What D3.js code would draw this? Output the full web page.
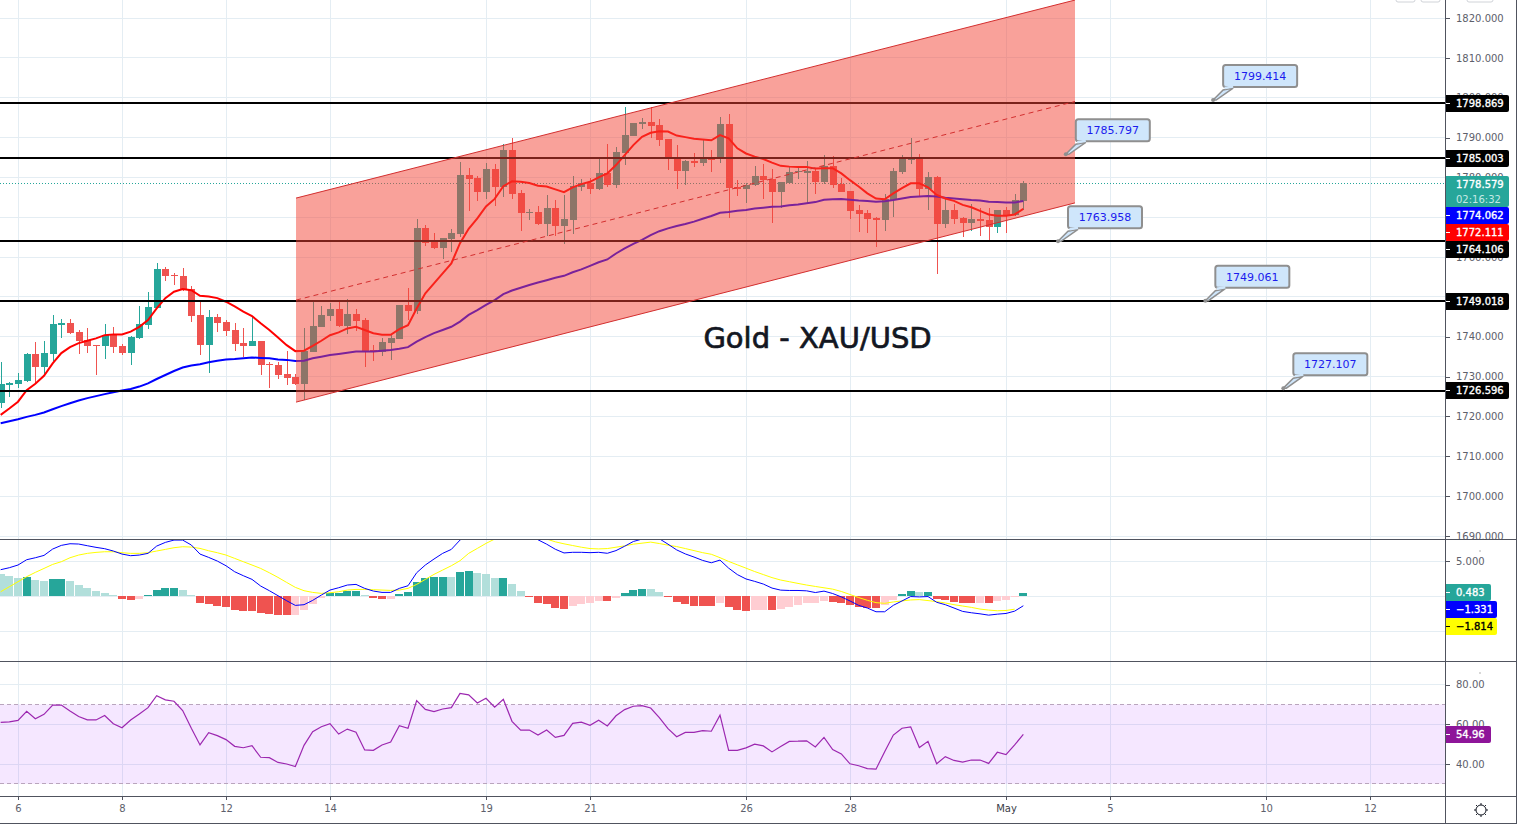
<!DOCTYPE html>
<html>
<head>
<meta charset="utf-8">
<title>Gold - XAU/USD</title>
<script src="https://cdn.jsdelivr.net/npm/d3@7"></script>
<style>
  html, body { margin: 0; padding: 0; background: #fff; }
  svg { display: block; }
  text { font-family: "DejaVu Sans", sans-serif; }
</style>
</head>
<body>
<div id="chart"></div>
<script>
// 4h candles
var opens = [1723.3,1728.0,1728.2,1729.0,1735.7,1732.5,1735.8,1743.0,1743.5,1741.2,1739.2,1737.9,1737.8,1740.4,1737.7,1736.0,1739.7,1743.0,1747.3,1757.0,1755.6,1755.2,1752.0,1745.5,1738.0,1745.0,1743.7,1741.7,1738.4,1737.8,1738.9,1733.2,1732.9,1730.7,1729.9,
  1728.2,1736.3,1742.4,1745.2,1747.0,1742.7,1745.7,1744.2,1736.7,1736.2,1738.4,1739.4,1748.0,1746.5,1767.3,1764.3,1762.3,1764.5,1765.8,1780.6,1779.9,1776.3,1782.1,1777.6,1786.9,1776.1,1771.1,1771.3,1768.3,1772.3,1767.8,1769.3,1777.6,1778.6,1777.1,1781.1,1778.1,1786.1,
  1790.4,1793.5,1793.9,1793.1,1789.6,1784.6,1781.6,1784.1,1783.6,1784.6,1784.6,1793.4,1777.5,1777.1,1778.1,1780.4,1779.6,1776.3,1778.6,1781.4,1781.1,1781.6,1778.8,1782.9,1778.3,1776.6,1771.8,1771.1,1769.8,1769.3,1774.3,1781.4,1784.4,1784.6,1777.1,1780.1,1768.3,1771.8,1769.8,1768.6,1769.6,1769.3,1767.5,1771.8,1770.6,1774.1];
var closes = [1728.2,1728.4,1729.2,1735.7,1732.5,1735.9,1743.2,1743.4,1741.0,1739.0,1737.8,1737.7,1740.4,1737.5,1736.0,1739.9,1743.2,1747.5,1757.0,1755.3,1755.2,1751.8,1745.3,1738.0,1745.0,1743.5,1741.5,1738.3,1737.8,1738.9,1733.0,1732.8,1730.5,1729.7,1728.2,
  1736.5,1742.7,1745.4,1747.0,1742.6,1745.7,1744.0,1736.5,1736.3,1738.7,1739.7,1748.0,1746.5,1767.3,1763.5,1762.3,1764.8,1766.0,1780.6,1779.6,1776.3,1782.1,1777.6,1786.9,1775.8,1771.1,1771.3,1768.3,1772.3,1767.8,1769.6,1777.8,1778.6,1777.1,1781.1,1778.1,1786.4,1790.6,
  1793.6,1793.9,1792.9,1789.4,1785.1,1781.6,1784.1,1783.6,1784.6,1784.4,1793.4,1777.3,1777.1,1778.1,1780.4,1779.3,1776.3,1778.8,1781.4,1781.6,1781.6,1778.8,1782.9,1778.1,1776.3,1771.6,1770.8,1769.6,1769.3,1774.6,1781.6,1784.6,1784.6,1777.1,1780.1,1768.3,1771.8,1769.6,1768.6,1769.6,1769.1,1767.5,1771.8,1770.6,1774.3,1778.579];
var highs = [1733.7,1728.6,1730.8,1735.9,1738.7,1738.9,1745.5,1744.4,1744.4,1741.7,1742.2,1738.0,1743.2,1742.4,1738.2,1740.2,1747.7,1751.2,1758.5,1757.4,1756.1,1757.3,1752.7,1748.8,1746.7,1745.7,1744.2,1743.4,1742.2,1745.0,1738.9,1733.7,1733.7,1736.4,1730.7,
  1742.2,1748.8,1747.7,1748.6,1748.8,1749.5,1746.9,1744.6,1737.9,1739.7,1740.7,1748.0,1752.2,1769.6,1768.1,1766.0,1764.8,1767.0,1783.9,1782.4,1780.4,1783.6,1783.4,1788.4,1789.9,1776.8,1772.1,1772.8,1775.6,1774.3,1775.6,1780.3,1779.6,1779.8,1784.6,1788.4,1787.6,1797.7,
  1793.6,1794.8,1797.7,1794.6,1789.6,1788.1,1784.4,1786.1,1789.6,1786.9,1795.2,1795.9,1779.4,1778.6,1782.9,1783.4,1782.1,1778.8,1782.6,1782.4,1784.1,1782.1,1785.6,1785.3,1779.8,1776.6,1773.1,1771.8,1770.1,1775.8,1782.4,1785.6,1789.9,1785.9,1781.4,1780.3,1774.6,1773.3,1770.1,1773.3,1772.3,1772.3,1771.8,1772.6,1775.8,1779.1];
var lows = [1722.05,1725.0,1727.2,1728.6,1728.3,1730.4,1734.0,1739.8,1740.6,1735.7,1736.0,1730.4,1734.4,1735.9,1735.3,1732.9,1739.4,1742.0,1747.1,1754.1,1753.0,1751.5,1743.8,1735.4,1731.0,1741.2,1740.2,1736.4,1735.0,1737.6,1730.4,1727.2,1729.5,1727.9,1727.9,
  1724.1,1736.3,1742.4,1743.9,1742.4,1740.7,1741.4,1732.5,1734.0,1735.2,1734.2,1739.4,1744.2,1745.7,1762.8,1762.0,1759.5,1761.3,1765.1,1771.6,1774.1,1774.6,1772.8,1775.1,1774.6,1766.5,1769.3,1768.0,1765.3,1765.3,1763.3,1765.8,1776.6,1775.8,1776.8,1777.6,1777.3,1783.1,
  1790.4,1792.1,1789.9,1787.9,1781.9,1777.1,1778.2,1782.6,1782.9,1781.4,1783.6,1769.8,1775.3,1773.6,1777.8,1774.6,1768.6,1772.3,1778.6,1779.6,1773.6,1775.8,1778.3,1777.3,1776.3,1769.6,1766.3,1766.0,1762.5,1766.5,1770.1,1780.9,1783.4,1775.1,1771.8,1755.7,1767.3,1768.3,1765.0,1766.5,1765.3,1764.3,1766.0,1766.0,1770.3,1771.8];

// moving averages
var emaFast = [1720.4,1722.0,1723.7,1726.6,1728.2,1730.2,1733.3,1735.9,1737.4,1738.4,1739.0,1739.6,1740.4,1740.6,1740.6,1741.3,1742.5,1744.2,1747.1,1749.7,1751.3,1752.0,1751.7,1750.3,1750.1,1749.7,1748.8,1747.6,1746.3,1745.2,1743.4,1741.7,1739.8,1737.9,1736.4,
  1736.5,1737.7,1739.0,1740.4,1741.1,1742.1,1742.5,1741.7,1740.9,1740.5,1740.5,1741.9,1742.9,1747.1,1750.9,1753.4,1755.9,1758.4,1763.5,1767.1,1769.7,1772.7,1774.6,1777.8,1779.0,1778.9,1778.6,1777.9,1777.7,1777.0,1776.3,1777.5,1778.3,1778.9,1780.0,1781.0,1783.1,1785.6,
  1788.1,1790.2,1791.2,1791.6,1791.5,1790.5,1790.1,1789.7,1789.5,1789.3,1790.6,1789.8,1787.3,1786.0,1785.2,1784.6,1783.7,1782.9,1782.7,1782.6,1782.6,1782.2,1782.3,1782.3,1781.0,1779.3,1777.7,1776.0,1774.7,1774.5,1776.0,1777.3,1778.5,1778.5,1777.5,1775.6,1774.7,1774.1,1773.1,1772.5,1771.6,1770.7,1770.4,1770.4,1770.7,1772.111];
var emaSlow = [1718.3,1718.8,1719.3,1719.9,1720.4,1721.0,1721.8,1722.6,1723.3,1724.0,1724.6,1725.1,1725.6,1726.1,1726.5,1726.9,1727.5,1728.3,1729.4,1730.4,1731.4,1732.3,1732.8,1733.1,1733.6,1734.0,1734.3,1734.4,1734.6,1734.8,1734.7,1734.6,1734.3,1734.2,1733.9,
  1734.0,1734.6,1735.0,1735.4,1735.7,1736.0,1736.3,1736.3,1736.3,1736.5,1736.7,1737.0,1737.4,1738.8,1739.9,1740.9,1741.7,1742.5,1743.8,1745.5,1746.7,1748.0,1749.2,1750.7,1751.6,1752.3,1753.0,1753.6,1754.2,1754.8,1755.3,1756.2,1756.9,1757.8,1758.7,1759.4,1760.9,1762.2,
  1763.3,1764.3,1765.5,1766.5,1767.2,1767.8,1768.3,1768.9,1769.6,1770.3,1771.1,1771.3,1771.6,1771.8,1772.2,1772.4,1772.6,1772.7,1773.0,1773.2,1773.5,1773.8,1774.4,1774.5,1774.6,1774.4,1774.2,1774.1,1773.9,1774.0,1774.3,1774.7,1775.1,1775.2,1775.3,1775.2,1774.9,1774.7,1774.5,1774.3,1774.2,1773.9,1773.8,1773.7,1773.7,1774.062];

// MACD pane
var macdHist = [3.15,2.87,2.63,2.68,2.30,2.16,2.44,2.47,2.16,1.60,1.18,.75,.47,.19,-.38,-.52,-.38,.19,.89,1.18,1.20,.89,.19,-.94,-1.08,-1.36,-1.50,-1.93,-2.07,-2.09,-2.35,-2.49,-2.63,-2.65,-2.63,
  -1.93,-1.08,-.24,.47,.49,.75,.78,.19,-.28,-.38,-.33,.33,.61,2.02,2.59,2.73,2.75,2.73,3.43,3.57,3.29,3.15,2.59,2.61,1.74,.75,-.14,-.94,-1.08,-1.65,-1.79,-1.36,-1.08,-.94,-.66,-.68,-.24,.47,
  .89,1.03,1.01,.61,-.14,-.80,-1.08,-1.36,-1.39,-1.41,-.94,-1.50,-1.93,-2.07,-1.93,-1.92,-1.95,-1.79,-1.50,-1.22,-.94,-.92,-.66,-.80,-.94,-1.22,-1.50,-1.65,-1.67,-1.22,-.52,.33,.75,.61,.63,-.38,-.52,-.80,-.94,-.96,-.94,-.99,-.66,-.52,-.09,.483];
var macdLine = [3.77,4.05,4.43,5.18,5.46,5.79,6.69,7.21,7.44,7.40,7.16,6.93,6.74,6.41,5.98,5.75,5.84,6.08,7.11,7.63,7.96,7.96,7.26,5.98,5.51,4.99,4.33,3.48,2.92,2.40,1.46,.80,.09,-.62,-1.28,
  -1.18,-.57,.18,.89,1.22,1.60,1.69,1.13,.75,.56,.56,1.13,1.50,3.34,4.43,5.28,6.08,6.64,7.96,9.0,9.8,10.2,10.3,10.5,10.4,9.8,8.9,8.0,7.38,6.66,6.14,6.23,6.23,6.18,6.23,6.09,6.47,7.09,
  7.76,8.1,8.15,8.15,7.38,6.57,6.0,5.56,5.08,4.75,5.13,3.99,3.08,2.46,2.12,1.74,1.17,.88,.83,.83,.78,.54,.74,.40,-.08,-.65,-1.27,-1.65,-2.18,-2.18,-1.27,-.65,-.03,-.08,-.03,-.84,-1.18,-1.65,-2.13,-2.32,-2.47,-2.66,-2.52,-2.42,-2.09,-1.331];
var macdSignal = [.65,1.36,2.07,2.78,3.39,3.95,4.52,4.90,5.46,5.84,6.08,6.22,6.31,6.31,6.17,6.08,6.08,6.17,6.41,6.64,6.88,7.02,6.97,6.78,6.45,6.17,5.84,5.37,4.90,4.43,3.95,3.34,2.68,1.97,1.27,
  .80,.56,.42,.51,.65,.89,.98,.98,.94,.89,.84,.89,1.13,1.69,2.40,3.11,3.72,4.33,5.04,6.08,6.78,7.49,8.10,8.5,8.7,8.9,8.6,8.3,8.1,7.71,7.43,7.19,6.95,6.76,6.71,6.76,6.95,7.14,
  7.38,7.52,7.67,7.47,7.24,7.04,6.76,6.47,6.18,5.95,5.47,4.94,4.46,3.99,3.51,3.08,2.65,2.31,2.07,1.83,1.60,1.40,1.21,1.02,.69,.26,-.17,-.56,-.89,-.99,-.79,-.65,-.51,-.46,-.60,-.75,-.94,-1.18,-1.37,-1.56,-1.80,-1.94,-2.04,-2.0,-1.814];

// RSI pane
var rsiValues = [61.0,61.2,62.0,66.5,62.8,65.0,69.7,69.7,66.7,63.9,62.2,62.2,64.4,60.3,58.3,62.2,65.2,68.4,74.4,72.3,71.6,66.9,58.0,49.6,55.8,54.3,52.3,48.9,48.2,49.2,43.4,43.2,40.8,40.0,38.7,
  49.4,56.3,58.8,60.3,55.1,57.6,56.0,47.1,46.9,49.6,51.1,59.3,58.0,71.9,67.5,66.4,67.7,68.4,75.6,74.8,70.7,73.1,68.6,72.6,61.5,57.1,57.1,54.6,57.1,53.4,54.4,60.5,61.1,59.5,62.1,59.2,64.3,67.4,
  69.1,69.4,68.2,63.4,57.8,53.7,55.9,55.9,56.8,56.5,64.6,46.9,46.9,48.1,50.0,49.1,46.1,48.8,51.4,51.5,51.7,48.6,53.4,47.3,45.1,40.1,39.1,37.7,37.4,46.2,54.6,58.0,58.7,48.3,51.4,40.1,43.7,41.8,41.0,42.0,42.0,40.3,45.9,44.7,49.6,54.96];

// time axis
var timeTickBars = [2,14,26,38,56,68,86,98,116,128,146,158];
var timeTickLabels = ["6","8","12","14","19","21","26","28","May","5","10","12"];

// drawings
var supportLevels = [1798.869,1785.003,1764.106,1749.018,1726.596];
var channelBars = [34.08,123.96];
var channelUpper = [1774.8,1824.5];
var channelLower = [1723.6,1773.6];
var channelMiddle = [1749.2,1799.05];
var calloutBars = [139.9,122.9,122,139,148];
var calloutValues = [1799.414,1785.797,1763.958,1749.061,1727.107];

var priceTicks = d3.range(1690,1830,10);
var macdGrid = [5,0,-5];
var rsiGrid = [80,60,40];

var W = 1517, H = 824;
var axisX = 1445, mainBottom = 539, macdBottom = 661, rsiBottom = 796;
var gridColor = "#e4edf3", axisColor = "#50535e", textColor = "#5d606b";
var teal = "#26a69a", red = "#ef5350";
var labelSize = "10px";

var svg = d3.select("#chart").append("svg").attr("width", W).attr("height", H)
  .style("font-family", "'DejaVu Sans', sans-serif");

var x = d3.scaleLinear().domain([2,14]).range([18,122]);
var y = d3.scaleLinear().domain([1690,1820]).range([536,18]);
var yMacd = d3.scaleLinear().domain([-5,5]).range([631.7,561]);
var yRsi = d3.scaleLinear().domain([40,80]).range([764,684.6]);

function clip(id, top, bottom) {
  svg.append("clipPath").attr("id", id).append("rect")
    .attr("x", 0).attr("y", top).attr("width", axisX).attr("height", bottom - top);
}
clip("clipMain", 0, mainBottom);
clip("clipMacd", mainBottom + 1, macdBottom);
clip("clipRsi", macdBottom + 1, rsiBottom);

/** grid **/
var grid = svg.append("g").attr("stroke", gridColor).attr("stroke-width", 1).attr("shape-rendering", "crispEdges");
timeTickBars.forEach(function (b) {
  grid.append("line").attr("x1", x(b)).attr("x2", x(b)).attr("y1", 0).attr("y2", rsiBottom);
});
function hgrid(vals, scale) {
  vals.forEach(function (v) {
    grid.append("line").attr("x1", 0).attr("x2", axisX).attr("y1", scale(v)).attr("y2", scale(v));
  });
}
hgrid(priceTicks, y); hgrid(macdGrid, yMacd); hgrid(rsiGrid, yRsi);

/** main pane **/
var main = svg.append("g").attr("clip-path", "url(#clipMain)");

var lastY = Math.round(y(closes[closes.length - 1])) + 0.5;
main.append("line").attr("x1", 0).attr("x2", axisX).attr("y1", lastY).attr("y2", lastY)
  .attr("stroke", teal).attr("stroke-dasharray", "1 2");

var candle = main.append("g").selectAll("g").data(opens).enter().append("g")
  .attr("fill", function (d, i) { return closes[i] >= d ? teal : red; })
  .attr("stroke", function (d, i) { return closes[i] >= d ? teal : red; })
  .attr("shape-rendering", "crispEdges");
candle.append("line")
  .attr("x1", function (d, i) { return Math.round(x(i)) + 0.5; })
  .attr("x2", function (d, i) { return Math.round(x(i)) + 0.5; })
  .attr("y1", function (d, i) { return y(highs[i]); })
  .attr("y2", function (d, i) { return y(lows[i]); });
candle.append("rect").attr("stroke", "none")
  .attr("x", function (d, i) { return Math.round(x(i)) - 3; })
  .attr("width", 7)
  .attr("y", function (d, i) { return y(Math.max(d, closes[i])); })
  .attr("height", function (d, i) { return Math.max(1, Math.abs(y(d) - y(closes[i]))); });

var priceLine = d3.line().x(function (d, i) { return x(i); }).y(function (d) { return y(d); });
main.append("path").datum(emaSlow).attr("d", priceLine).attr("fill", "none").attr("stroke", "#0000ff").attr("stroke-width", 2);
main.append("path").datum(emaFast).attr("d", priceLine).attr("fill", "none").attr("stroke", "#ff0000").attr("stroke-width", 2);

main.append("g").selectAll("line").data(supportLevels).enter().append("line")
  .attr("x1", 0).attr("x2", axisX)
  .attr("y1", function (d) { return Math.ceil(y(d)); })
  .attr("y2", function (d) { return Math.ceil(y(d)); })
  .attr("stroke", "#000").attr("stroke-width", 2);

// channel sits on top of the candles and lines
var channelArea = d3.area().x(function (d) { return x(d); })
  .y0(function (d, i) { return y(channelLower[i]); })
  .y1(function (d, i) { return y(channelUpper[i]); });
main.append("path").datum(channelBars).attr("d", channelArea).attr("fill", "#f44336").attr("fill-opacity", 0.5);
[channelUpper, channelLower, channelMiddle].forEach(function (vals, k) {
  main.append("line")
    .attr("x1", x(channelBars[0])).attr("x2", x(channelBars[1]))
    .attr("y1", y(vals[0])).attr("y2", y(vals[1]))
    .attr("stroke", "#d32f2f").attr("stroke-width", 1)
    .attr("stroke-dasharray", k === 2 ? "5 4" : null);
});

// title
main.append("text").attr("x", 817.5).attr("y", 338).attr("dy", "0.36em").attr("text-anchor", "middle")
  .attr("fill", "#131722").attr("stroke", "#131722").attr("stroke-width", 0.7)
  .style("font-size", "29px")
  .text("Gold - XAU/USD");

// callouts
var callout = main.append("g").selectAll("g").data(calloutValues).enter().append("g")
  .attr("transform", function (d, i) { return "translate(" + x(calloutBars[i]) + "," + y(d) + ")"; });
callout.append("path")
  .attr("d", "M0,0L10,-10L20,-12L3,0Z").attr("fill", "#cfe6fb").attr("stroke", "#8f8f8f").attr("stroke-width", 1.5);
callout.append("rect").attr("x", 10).attr("y", -35).attr("width", 74).attr("height", 22).attr("rx", 2.5)
  .attr("fill", "#cfe6fb").attr("stroke", "#8f8f8f").attr("stroke-width", 2);
callout.append("path").attr("d", "M11.5,-12L20,-13.5").attr("stroke", "#cfe6fb").attr("stroke-width", 2.5);
callout.append("circle").attr("r", 2).attr("fill", "#8f8f8f");
callout.append("text").attr("x", 47).attr("y", -24).attr("dy", "0.36em").attr("text-anchor", "middle")
  .attr("fill", "#1b1bee").style("font-size", "11px").text(function (d) { return d.toFixed(3); });

/** MACD pane **/
var macd = svg.append("g").attr("clip-path", "url(#clipMacd)");
macd.append("g").selectAll("rect").data(macdHist).enter().append("rect")
  .attr("shape-rendering", "crispEdges")
  .attr("x", function (d, i) { return Math.round(x(i)) - 4; })
  .attr("width", 8)
  .attr("y", function (d) { return yMacd(Math.max(d, 0)); })
  .attr("height", function (d) { return Math.abs(yMacd(d) - yMacd(0)); })
  .attr("fill", function (d, i) {
    var rising = i > 0 && d > macdHist[i - 1];
    if (d >= 0) return rising ? teal : "#b2dfdb";
    return rising ? "#ffcdd2" : red;
  });
var macdPath = d3.line().x(function (d, i) { return x(i); }).y(function (d) { return yMacd(d); });
macd.append("path").datum(macdSignal).attr("d", macdPath).attr("fill", "none").attr("stroke", "#ffff00").attr("stroke-width", 1);
macd.append("path").datum(macdLine).attr("d", macdPath).attr("fill", "none").attr("stroke", "#0000ff").attr("stroke-width", 1);

/** RSI pane **/
var rsi = svg.append("g").attr("clip-path", "url(#clipRsi)");
rsi.append("rect").attr("x", 0).attr("width", axisX).attr("y", yRsi(70)).attr("height", yRsi(30) - yRsi(70))
  .attr("fill", "#9915ff").attr("fill-opacity", 0.1);
[70,30].forEach(function (v) {
  rsi.append("line").attr("x1", 0).attr("x2", axisX).attr("y1", yRsi(v)).attr("y2", yRsi(v))
    .attr("stroke", "#b9a5bd").attr("stroke-dasharray", "4 3").attr("shape-rendering", "crispEdges");
});
rsi.append("path").datum(rsiValues)
  .attr("d", d3.line().x(function (d, i) { return x(i); }).y(function (d) { return yRsi(d); }))
  .attr("fill", "none").attr("stroke", "#9c27b0").attr("stroke-width", 1.2);

/** axes **/
function styleAxis(g) {
  g.select(".domain").remove();
  g.selectAll("line").attr("stroke", axisColor).attr("shape-rendering", "crispEdges");
  g.selectAll("text").attr("fill", textColor).style("font-size", labelSize).style("font-family", "'DejaVu Sans', sans-serif");
}
var ax = svg.append("g");
ax.append("g").attr("transform", "translate(" + axisX + ",0)")
  .call(d3.axisRight(y).tickValues(priceTicks.filter(function (t) { return t !== 1750 && t !== 1770; })).tickSize(5).tickPadding(6).tickFormat(d3.format(".3f")))
  .call(styleAxis);
ax.append("g").attr("transform", "translate(" + axisX + ",0)")
  .call(d3.axisRight(yMacd).tickValues([5]).tickSize(5).tickPadding(6).tickFormat(d3.format(".3f")))
  .call(styleAxis);
ax.append("g").attr("transform", "translate(" + axisX + ",0)")
  .call(d3.axisRight(yRsi).tickValues(rsiGrid).tickSize(5).tickPadding(6).tickFormat(d3.format(".2f")))
  .call(styleAxis);
ax.append("g").attr("transform", "translate(0," + rsiBottom + ")")
  .call(d3.axisBottom(x).tickValues(timeTickBars).tickSize(4).tickPadding(5).tickFormat(function (d, i) { return timeTickLabels[i]; }))
  .call(styleAxis);
ax.selectAll("text").filter(function () { return this.textContent === "May"; }).attr("fill", "#3a3d47");

// right side value labels
function pill(cy1, cy2, right, fill) {
  var r = 2;
  var p = d3.path();
  p.moveTo(axisX, cy1); p.lineTo(right - r, cy1); p.quadraticCurveTo(right, cy1, right, cy1 + r);
  p.lineTo(right, cy2 - r); p.quadraticCurveTo(right, cy2, right - r, cy2); p.lineTo(axisX, cy2); p.closePath();
  svg.append("path").attr("d", p.toString()).attr("fill", fill);
}
function tagText(cy, text, color, heavy) {
  svg.append("text").attr("x", axisX + 11).attr("y", cy).attr("dy", "0.36em")
    .attr("fill", color).attr("stroke", heavy ? color : "none").attr("stroke-width", 0.35)
    .style("font-size", labelSize).text(text);
}
function tag(text, top, right, fill, color) {
  var h = 17;
  pill(top, top + h, right, fill);
  svg.append("line").attr("x1", axisX).attr("x2", axisX + 5).attr("y1", top + 8.5).attr("y2", top + 8.5)
    .attr("stroke", color).attr("shape-rendering", "crispEdges");
  tagText(top + 8.5, text, color, true);
}
tag("1798.869", 95, 1509, "#000", "#fff");
tag("1785.003", 150, 1509, "#000", "#fff");
pill(176, 207, 1509, teal);
tagText(184.5, "1778.579", "#fff", true);
tagText(199, "02:16:32", "#c5e9e5", false);
tag("1774.062", 207, 1509, "#0000ff", "#fff");
tag("1772.111", 224, 1509, "#ff0000", "#fff");
tag("1764.106", 241, 1509, "#000", "#fff");
tag("1749.018", 293, 1509, "#000", "#fff");
tag("1726.596", 382, 1509, "#000", "#fff");
tag("0.483", 584, 1491, teal, "#fff");
tag("\u22121.331", 601, 1497, "#0000ff", "#fff");
tag("\u22121.814", 618, 1497, "#ffff00", "#000");
tag("54.96", 726, 1491, "#8e1599", "#fff");

/** frame **/
var frame = svg.append("g").attr("stroke", axisColor).attr("shape-rendering", "crispEdges");
frame.append("line").attr("x1", axisX + 0.5).attr("x2", axisX + 0.5).attr("y1", 0).attr("y2", H);
frame.append("line").attr("x1", 0).attr("x2", W).attr("y1", mainBottom + 0.5).attr("y2", mainBottom + 0.5);
frame.append("line").attr("x1", 0).attr("x2", W).attr("y1", macdBottom + 0.5).attr("y2", macdBottom + 0.5);
frame.append("line").attr("x1", 0).attr("x2", W).attr("y1", rsiBottom + 0.5).attr("y2", rsiBottom + 0.5);
frame.append("line").attr("x1", 0).attr("x2", W).attr("y1", H - 0.5).attr("y2", H - 0.5);
frame.append("line").attr("x1", W - 0.5).attr("x2", W - 0.5).attr("y1", 0).attr("y2", H);

// small pane handles and top buttons
[550,672].forEach(function (cy) {
  svg.append("rect").attr("x", 1479).attr("y", cy).attr("width", 2).attr("height", 2).attr("fill", "#d8d8d8");
});
[[1396,19],[1421,19],[1467,26]].forEach(function (b) {
  svg.append("rect").attr("x", b[0]).attr("y", -6).attr("width", b[1]).attr("height", 8).attr("rx", 2)
    .attr("fill", "#fff").attr("stroke", "#d0d3d8");
});

// settings icon
var gear = svg.append("g").attr("transform", "translate(1481,810)").attr("fill", "none").attr("stroke", "#131722").attr("stroke-width", 1);
gear.append("circle").attr("r", 5);
d3.range(8).forEach(function (k) {
  var a = k * Math.PI / 4;
  gear.append("line").attr("x1", 5 * Math.cos(a)).attr("y1", 5 * Math.sin(a)).attr("x2", 7 * Math.cos(a)).attr("y2", 7 * Math.sin(a));
});
</script>
</body>
</html>
